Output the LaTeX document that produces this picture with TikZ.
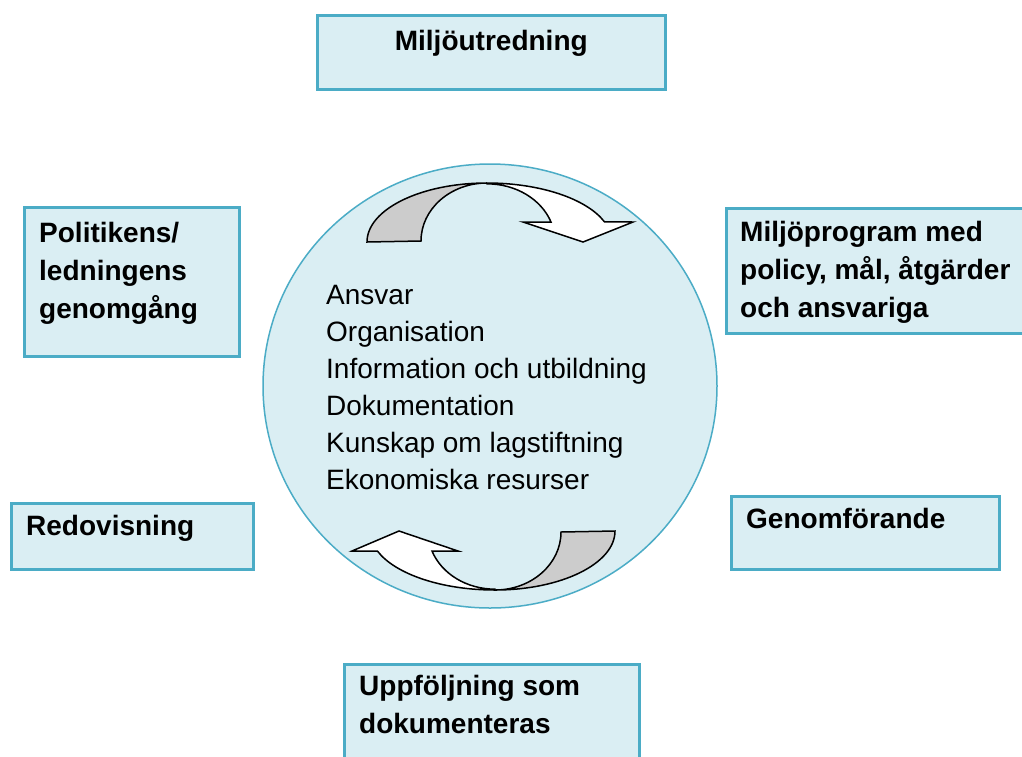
\documentclass[tikz,border=0pt]{standalone}
\usepackage{fontspec}
\setmainfont{Liberation Sans}
\usetikzlibrary{shapes.geometric}
\definecolor{paleaqua}{HTML}{DAEEF3}
\definecolor{aqualine}{HTML}{4BACC6}
\tikzset{panel/.style={draw=aqualine,fill=paleaqua,line width=2.5pt,
                       anchor=north west,inner sep=0pt}}
\tikzset{head/.style={font=\bfseries\fontsize{28}{38}\selectfont,
                      align=left,anchor=base west,inner sep=0pt}}

\begin{document}
\begin{tikzpicture}[x=1pt,y=-1pt]
    \tikzstyle{hub}=[ellipse,draw=aqualine,fill=paleaqua,line width=1.5pt,
                     minimum width=454pt,minimum height=444pt,inner sep=0pt]
    \tikzstyle{turn}=[draw=black,line width=1.5pt,line join=miter]
    \tikzstyle{list}=[font=\fontsize{28}{37}\selectfont,align=left,
                      anchor=base west,inner sep=0pt]

    \clip (0,0) rectangle (1022,756);
    \fill[white] (0,0) rectangle (1022,756);

    % Draw the stage boxes round the circle
    \foreach \name / \x / \y / \w / \h in {env/316/14/348/74,review/23/206/215/149,
        prog/725/207/320/125,report/10/502/242/66,impl/730/495/268/73,
        follow/343/663/295/110}
        \node[panel,minimum width=\w pt,minimum height=\h pt] (\name) at (\x,\y) {};

    % Texts of the boxes (base is the last line)
    \node[head,anchor=base] (env-t) at ([shift={(0,36)}]env.north) {Miljöutredning};
    \node[head] (review-t) at ([shift={(16,112)}]review.north west)
        {Politikens/\\ledningens\\genomgång};
    \node[head] (prog-t) at ([shift={(15,110)}]prog.north west)
        {Miljöprogram med\\policy, mål, åtgärder\\och ansvariga};
    \node[head] (report-t) at ([shift={(16,33)}]report.north west) {Redovisning};
    \node[head] (impl-t) at ([shift={(16,33)}]impl.north west) {Genomförande};
    \node[head] (follow-t) at ([shift={(16,70)}]follow.north west)
        {Uppföljning som\\dokumenteras};

    % The circle with its list
    \node[hub] (hub) at (490,386) {};
    \node[list] (tasks) at (326,489)
        {Ansvar\\Organisation\\Information och utbildning\\Dokumentation\\Kunskap om lagstiftning\\Ekonomiska resurser};

    % Upper turning arrow
    \path[turn,fill=gray!40] (367,242)
        arc[start angle=180,end angle=270,x radius=120,y radius=59]
        arc[start angle=270,end angle=180,x radius=66,y radius=58] -- cycle;
    \path[turn,fill=white] (487,183)
        arc[start angle=270,end angle=340,x radius=125,y radius=59]
        -- (633,222) -- (583,242) -- (523,222) -- (551,222)
        arc[start angle=340,end angle=270,x radius=68,y radius=58] -- cycle;

    % Lower turning arrow
    \path[turn,fill=gray!40] (615,531)
        arc[start angle=0,end angle=90,x radius=120,y radius=59]
        arc[start angle=90,end angle=0,x radius=66,y radius=58] -- cycle;
    \path[turn,fill=white] (495,590)
        arc[start angle=90,end angle=160,x radius=125,y radius=59]
        -- (352,551) -- (399,531) -- (458,551) -- (432,551)
        arc[start angle=160,end angle=90,x radius=67,y radius=58] -- cycle;
\end{tikzpicture}
\end{document}
